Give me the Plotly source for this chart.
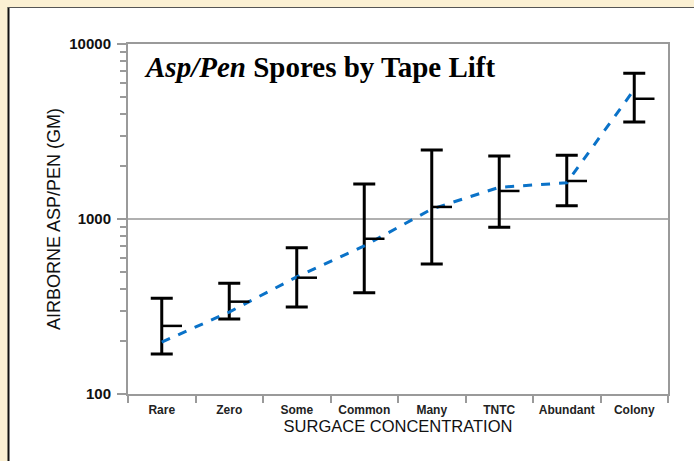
import plotly.graph_objects as go

categories = ["Rare", "Zero", "Some", "Common", "Many", "TNTC", "Abundant", "Colony"]
means = [245, 337, 462, 771, 1172, 1446, 1649, 4865]
lows = [169, 268, 314, 379, 553, 898, 1191, 3583]
highs = [352, 430, 685, 1585, 2477, 2291, 2317, 6795]
trend = [198, 294, 467, 702, 1140, 1517, 1611, 5500]

y_tickvals = [100, 1000, 10000]
y_ticktext = ["100", "1000", "10000"]
y_minor = [200, 300, 400, 500, 600, 700, 800, 900,
           2000, 3000, 4000, 5000, 6000, 7000, 8000, 9000]

err_plus = [h - m for h, m in zip(highs, means)]
err_minus = [m - l for m, l in zip(means, lows)]
idx = list(range(len(categories)))

fig = go.Figure()

# error bars (category axis)
fig.add_trace(go.Scatter(
    x=categories, y=means, mode="markers",
    marker=dict(size=1, color="rgba(0,0,0,0)"),
    error_y=dict(type="data", symmetric=False, array=err_plus, arrayminus=err_minus,
                 color="black", thickness=3, width=11),
    showlegend=False, hoverinfo="skip",
))

# mean stubs drawn on an overlaying numeric x axis with identical geometry
fig.add_trace(go.Scatter(
    x=idx, y=means, mode="markers", xaxis="x2",
    marker=dict(size=1, color="rgba(0,0,0,0)"),
    error_x=dict(type="data", symmetric=False, array=[0.3] * len(idx),
                 arrayminus=[0] * len(idx), color="black", thickness=2.5, width=0),
    showlegend=False, hoverinfo="skip",
))

fig.add_trace(go.Scatter(
    x=categories, y=trend, mode="lines", line_shape="linear",
    line=dict(color="#0a72c8", width=3, dash="dash"),
    showlegend=False,
))

axis_gray = "#9a9a9a"
W, H = 694, 461
ml, mr, mt, mb = 128, 26, 44, 67
pw, ph = W - ml - mr, H - mt - mb

def px_x(p):
    return (p - ml) / pw

def px_y(p):
    return 1 + (mt - p) / ph

fig.update_layout(
    width=W, height=H,
    margin=dict(l=ml, r=mr, t=mt, b=mb),
    paper_bgcolor="#fbf0d3",
    plot_bgcolor="white",
    xaxis=dict(
        type="category", categoryorder="array", categoryarray=categories,
        range=[-0.5, 7.5],
        showline=True, linecolor=axis_gray, linewidth=2, mirror=True,
        ticks="outside", tickson="boundaries", ticklen=7, tickcolor=axis_gray, tickwidth=1.5,
        ticklabelstandoff=4,
        showgrid=False, zeroline=False,
        tickfont=dict(family="Liberation Sans, Arial", size=12, color="#222", weight="bold"),
        title=dict(text="SURGACE CONCENTRATION", standoff=4,
                   font=dict(family="Liberation Sans, Arial", size=16.5, color="#111")),
    ),
    xaxis2=dict(
        overlaying="x", range=[-0.5, 7.5], visible=False,
    ),
    yaxis=dict(
        type="log", range=[2, 4],
        tickvals=y_tickvals, ticktext=y_ticktext,
        showline=True, linecolor=axis_gray, linewidth=2, mirror=True,
        ticks="outside", ticklen=9, tickcolor=axis_gray, tickwidth=1.5,
        ticklabelstandoff=3,
        showgrid=True, gridcolor="#b0b0b0", gridwidth=1.5, zeroline=False,
        minor=dict(tickvals=y_minor, ticks="outside", ticklen=6, tickcolor=axis_gray,
                   tickwidth=1.5, showgrid=False),
        tickfont=dict(family="Liberation Sans, Arial", size=15, color="#111", weight="bold"),
        title=dict(text="AIRBORNE ASP/PEN (GM)", standoff=4,
                   font=dict(family="Liberation Sans, Arial", size=18, color="#111")),
    ),
    shapes=[
        dict(type="rect", xref="paper", yref="paper",
             x0=px_x(8.5), x1=1.2, y0=-0.4, y1=px_y(7.5),
             fillcolor="white", line=dict(width=0), layer="below"),
        dict(type="line", xref="paper", yref="paper",
             x0=px_x(8.5), x1=px_x(8.5), y0=-0.4, y1=px_y(7),
             line=dict(color="#111", width=2)),
        dict(type="line", xref="paper", yref="paper",
             x0=px_x(8), x1=1.2, y0=px_y(7.5), y1=px_y(7.5),
             line=dict(color="#555", width=1)),
    ],
    annotations=[
        dict(text="<b><i>Asp/Pen</i> Spores by Tape Lift</b>",
             xref="paper", yref="paper", x=px_x(142), y=px_y(67),
             xanchor="left", yanchor="middle", showarrow=False,
             font=dict(family="Liberation Serif, Times New Roman", size=29, color="black")),
    ],
)

fig.write_html(
    "out.html",
    config={"displayModeBar": False},
    post_script="document.body.style.margin='0';document.body.style.padding='0';"
                "document.body.style.background='#fbf0d3';",
)
